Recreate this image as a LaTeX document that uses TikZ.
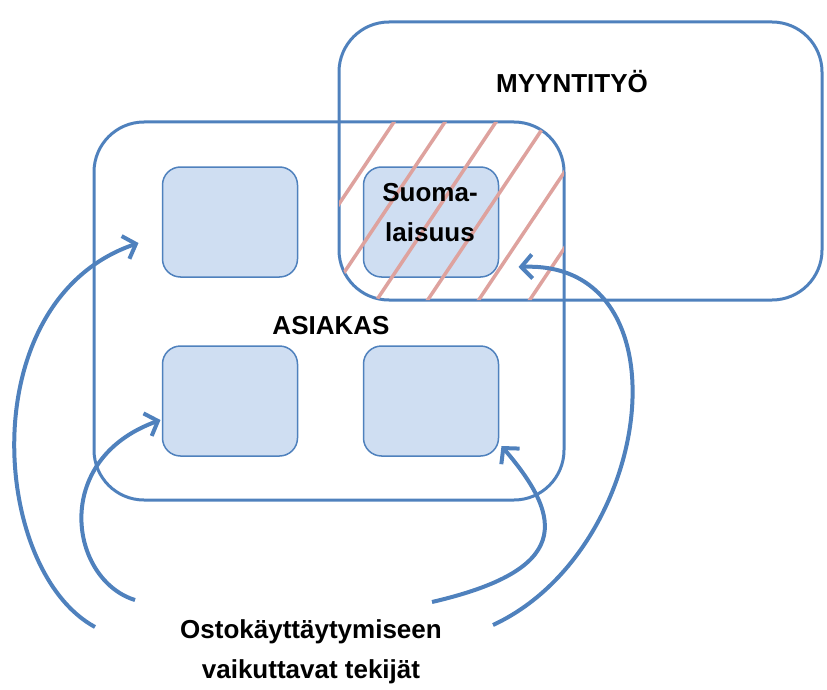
\documentclass[tikz,border=0pt]{standalone}
\usepackage{fontspec}
\setmainfont{Liberation Sans}
\usepackage{tikz}
\usetikzlibrary{arrows.meta,positioning}
\definecolor{boxblue}{RGB}{79,129,189}
\definecolor{boxfill}{RGB}{207,222,242}
\definecolor{hatchpink}{RGB}{222,162,158}
\tikzset{bigbox/.style={draw=boxblue,line width=3pt,rounded corners=50pt,outer sep=0,inner sep=0},
    smallbox/.style={draw=boxblue,fill=boxfill,line width=1.5pt,rounded corners=18pt,minimum width=135pt,minimum height=110pt,outer sep=0,inner sep=0},
    hatchline/.style={hatchpink,line width=3.5pt},
    influence/.style={boxblue,line width=4pt,-{Straight Barb[length=11pt,width=24pt]}},
    boldtext/.style={font=\fontsize{26}{40}\selectfont\bfseries,align=center}
}

\begin{document}
\begin{tikzpicture}[x=1pt,y=-1pt]

\useasboundingbox (0,0) rectangle (827,690);

\node (asiakas) at (329,311) [bigbox,minimum width=470pt,minimum height=378pt] {};
\node (myynti) at (580.5,161) [bigbox,minimum width=483pt,minimum height=278pt] {};

\node (tl) at (230,222) [smallbox] {};
\node (suomi) [smallbox,right=66pt of tl] {};
\node (bl) [smallbox,below=69pt of tl] {};
\node (br) [smallbox,below=69pt of suomi] {};

% overlap of the two areas
\begin{scope}
\clip [rounded corners=50pt] (asiakas.north west) rectangle (asiakas.south east);
\clip [rounded corners=50pt] (myynti.north west) rectangle (myynti.south east);
\foreach \x in {268,319,...,580}
    \draw [hatchline] (\x,310) -- ++(134,-200);
\end{scope}

\node (myyntiteksti) at (572,82) [boldtext] {MYYNTITYÖ};
\node (asiakasteksti) at (331,326) [boldtext] {ASIAKAS};
\node (suomiteksti) at (430,213) [boldtext] {Suoma-\\laisuus};
\node (tekijat) at (311,652) [boldtext] {Ostokäyttäytymiseen\\vaikuttavat tekijät};

\coordinate (srcA) at (95,627);
\coordinate (srcB) at (135,600);
\coordinate (srcC) at (432,602);
\coordinate (srcD) at (493,625);

\draw [influence] (srcA) .. controls (-10,570) and (-28,300) .. ([xshift=-24pt,yshift=-21pt]tl.west);
\draw [influence] (srcB) .. controls (70,580) and (50,460) .. ([xshift=-2pt,yshift=-19pt]bl.west);
\draw [influence] (srcC) .. controls (570,570) and (565,520) .. ([xshift=3pt,yshift=10pt]br.south east);
\draw [influence] (srcD) .. controls (655,550) and (690,260) .. ([xshift=20pt,yshift=10pt]suomi.south east);

\end{tikzpicture}
\end{document}
